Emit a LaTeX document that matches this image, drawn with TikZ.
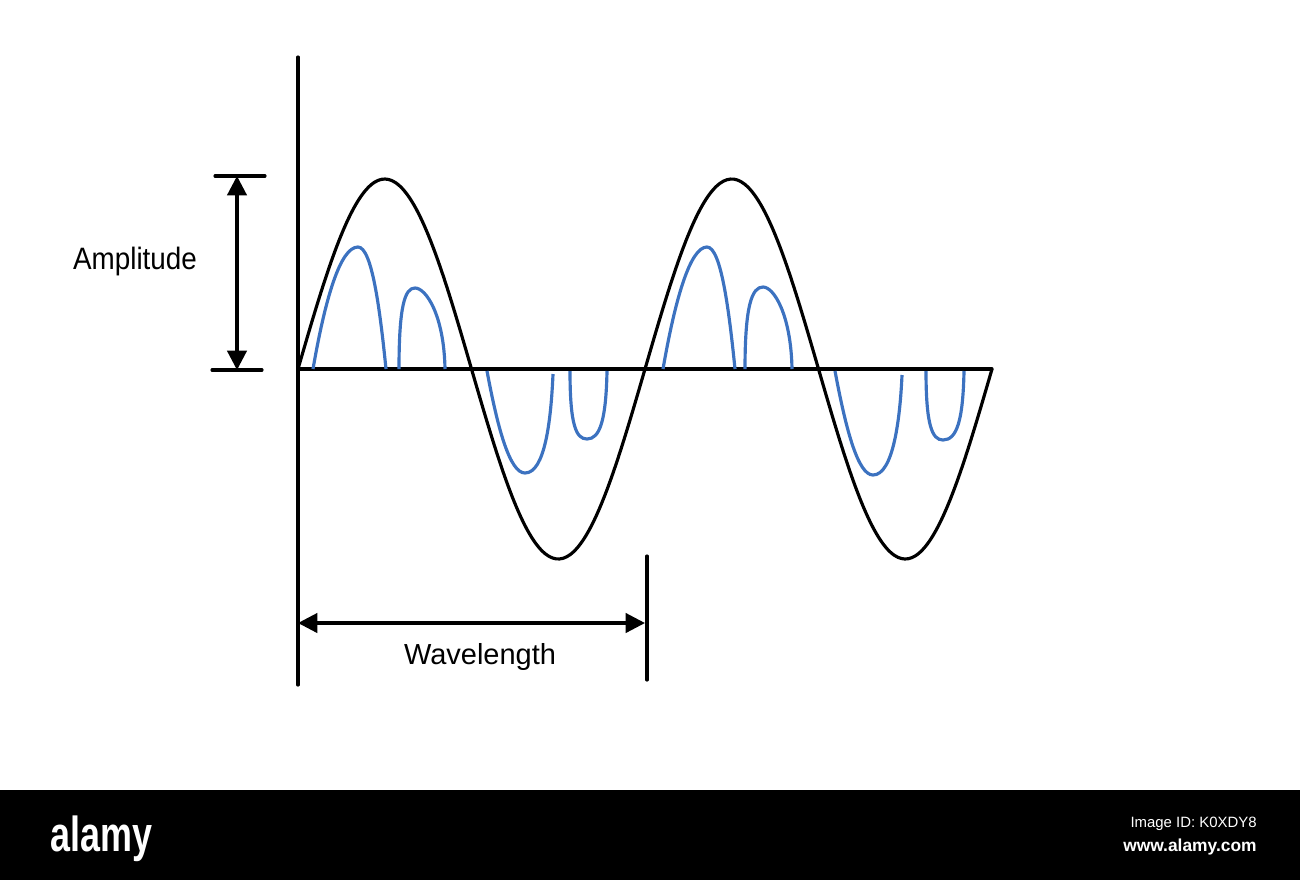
\documentclass[tikz,border=0pt]{standalone}
\usepackage{fontspec}
\setmainfont{Liberation Sans}
\usepackage{tkz-euclide}
\usetikzlibrary{arrows.meta,calc}
\definecolor{WaveClr}{RGB}{60,114,192}
\definecolor{BarClr}{RGB}{0,0,0}

\begin{document}
\begin{tikzpicture}[x=0.02cm,y=-0.02cm,
  axisline/.style={black,line width=1.8pt},
  dimarrow/.style={black,line width=1.8pt,{Triangle[length=11pt,width=11pt]}-{Triangle[length=11pt,width=11pt]}},
  ripple/.style={WaveClr,line width=1.8pt},
  lbl/.style={inner sep=0pt,font=\fontsize{16.5}{18}\selectfont}]
\useasboundingbox (0,0) rectangle (1300,880);
\tkzSetUpLine[line width=1.8pt,color=black]

\tkzDefPoints{298/57/Top,298/685/Bot,298/369/O,992/369/E,
  237/176/Ah,237/370/Al,215/176/Ta,265/176/Tb,212/370/Ba,262/370/Bb,
  298/623/Wl,645/623/Wr,647/556/Ra,647/680/Rb}

% axes and ticks
\tkzDrawSegments[axisline](Top,Bot O,E Ta,Tb Ba,Bb Ra,Rb)

% main wave (period 347)
\draw[axisline] plot[domain=298:992,samples=200,smooth]
  (\x,{369-190*sin(1.037464*(\x-298))});

% blue ripples, first wavelength
\draw[ripple] (313,369) .. controls (325,300) and (340,247) .. (358,247)
  .. controls (372,247) and (380,310) .. (386,369);
\draw[ripple] (399,369) .. controls (399,305) and (405,288) .. (415,288)
  .. controls (426,288) and (444,315) .. (445,369);
\draw[ripple] (487,371) .. controls (498,430) and (510,473) .. (525,473)
  .. controls (545,473) and (551,420) .. (553,374);
\draw[ripple] (570,371) .. controls (570,425) and (576,439) .. (587,439)
  .. controls (600,439) and (606,420) .. (607,371);

% blue ripples, second wavelength
\draw[ripple] (663,369) .. controls (675,300) and (690,247) .. (707,247)
  .. controls (721,247) and (729,310) .. (735,369);
\draw[ripple] (745,369) .. controls (745,305) and (752,287) .. (763,287)
  .. controls (774,287) and (791,315) .. (792,369);
\draw[ripple] (835,371) .. controls (846,430) and (858,475) .. (873,475)
  .. controls (893,475) and (900,420) .. (902,375);
\draw[ripple] (926,371) .. controls (926,425) and (932,440) .. (943,440)
  .. controls (957,440) and (963,420) .. (964,371);

% dimension arrows
\tkzDrawSegment[dimarrow](Al,Ah)
\tkzDrawSegment[dimarrow](Wl,Wr)

\node[lbl,anchor=base,xscale=.9,font=\fontsize{17.6}{19}\selectfont] (amp) at (135,269) {Amplitude};
\node[lbl,anchor=base] (wav) at (480,664) {Wavelength};

% footer bar
\fill[BarClr] (0,790) rectangle (1300,880);
\node[anchor=base west,inner sep=0pt,text=white,xscale=.73,
  font=\bfseries\fontsize{28}{30}\selectfont] (logo) at (50,851) {alamy};
\node[anchor=base east,inner sep=0pt,text=white,
  font=\fontsize{8.5}{10}\selectfont] (imgid) at (1257,827) {Image ID: K0XDY8};
\node[anchor=base east,inner sep=0pt,text=white,
  font=\bfseries\fontsize{9.9}{11}\selectfont] (site) at (1257,851) {www.alamy.com};

\end{tikzpicture}
\end{document}
